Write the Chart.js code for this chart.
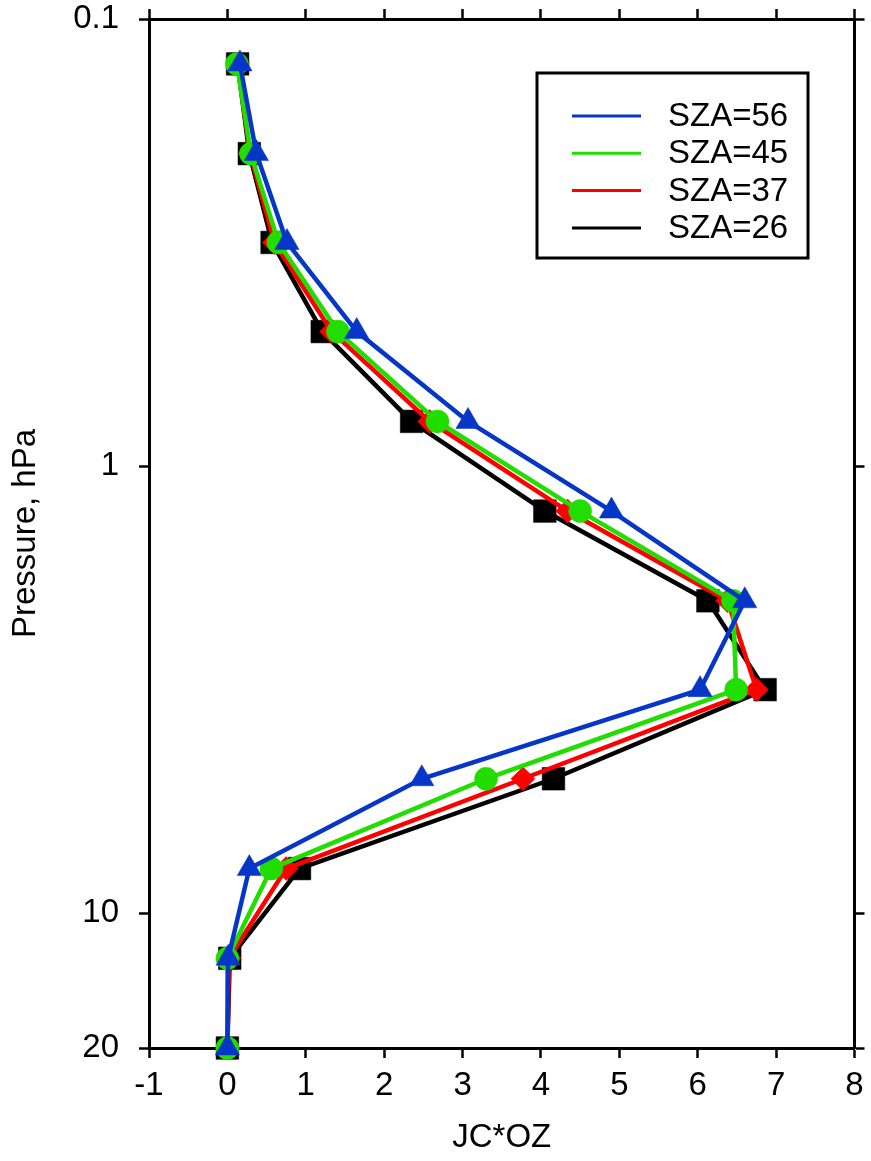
<!DOCTYPE html>
<html>
<head>
<meta charset="utf-8">
<script src="https://cdn.jsdelivr.net/npm/chart.js@4/dist/chart.umd.min.js"></script>
<style>
    html, body { margin: 0; padding: 0; background: #fff; }
    canvas { display: block; }
</style>
</head>
<body>
<canvas id="chartCanvas" width="871" height="1161"></canvas>
<script>
// pressure levels, hPa
const pressureLevels = [0.126, 0.2, 0.316, 0.5, 0.794, 1.26, 2, 3.16, 5, 7.94, 12.6, 20];

// JC*OZ for each solar zenith angle
const sza56 = [0.16, 0.37, 0.76, 1.65, 3.07, 4.90, 6.60, 6.03, 2.48, 0.28, 0.01, 0.0];
const sza45 = [0.12, 0.30, 0.65, 1.41, 2.68, 4.50, 6.45, 6.49, 3.30, 0.56, 0.00, 0.0];
const sza37 = [0.13, 0.29, 0.60, 1.33, 2.58, 4.34, 6.38, 6.75, 3.77, 0.75, 0.02, 0.0];
const sza26 = [0.13, 0.28, 0.57, 1.21, 2.35, 4.05, 6.13, 6.86, 4.16, 0.92, 0.03, 0.0];

const seriesLabels = ["SZA=56", "SZA=45", "SZA=37", "SZA=26"];
const xTicks = [-1, 0, 1, 2, 3, 4, 5, 6, 7, 8];
const yTicks = [0.1, 1, 10, 20];

const FONT = "'Liberation Sans', Arial, Helvetica, sans-serif";

document.addEventListener("DOMContentLoaded", () => {
    const chartCanvas = document.getElementById("chartCanvas");

    function toPoints(values) {
        return values.map((v, i) => ({ x: v, y: pressureLevels[i] }));
    }

    function makeSeries(label, values, color, style, radius) {
        return {
            label: label,
            data: toPoints(values),
            borderColor: color,
            backgroundColor: color,
            borderWidth: 4.5,
            pointStyle: style,
            pointRadius: radius,
            pointHoverRadius: radius,
            pointBackgroundColor: color,
            pointBorderColor: color,
            pointBorderWidth: 0.5,
            tension: 0,
            clip: false
        };
    }

    // fixed axis box sizes, no extra room for edge labels
    function fixBox(size, horizontal) {
        return s => {
            if (horizontal) s.height = size; else s.width = size;
            s.paddingLeft = 0;
            s.paddingRight = 0;
            s.paddingTop = 0;
            s.paddingBottom = 0;
        };
    }

    const frame = { display: true, color: "#000", width: 3 };
    const tickMarks = {
        display: true,
        drawOnChartArea: false,
        drawTicks: true,
        tickLength: 10,
        tickWidth: 2.5,
        tickColor: "#000"
    };

    // legend drawn inside the plot, with a box round it
    const boxLegend = {
        id: "boxLegend",
        afterDraw(chart) {
            const ctx = chart.ctx;
            ctx.save();
            ctx.fillStyle = "#fff";
            ctx.fillRect(537, 73, 271, 185);
            ctx.strokeStyle = "#000";
            ctx.lineWidth = 3;
            ctx.strokeRect(537, 73, 271, 185);
            ctx.font = "33px " + FONT;
            ctx.textBaseline = "middle";
            chart.data.datasets.forEach((ds, i) => {
                const y = 116 + i * 37.3;
                ctx.strokeStyle = ds.borderColor;
                ctx.lineWidth = 3;
                ctx.beginPath();
                ctx.moveTo(572, y);
                ctx.lineTo(641, y);
                ctx.stroke();
                ctx.fillStyle = "#000";
                ctx.fillText(ds.label, 668, y + 1);
            });
            ctx.restore();
        }
    };

    new Chart(chartCanvas, {
        type: "line",
        data: {
            datasets: [
                makeSeries(seriesLabels[0], sza56, "#0536c8", "triangle", 14),
                makeSeries(seriesLabels[1], sza45, "#22dd00", "circle", 11.5),
                makeSeries(seriesLabels[2], sza37, "#ff0000", "rectRot", 12),
                makeSeries(seriesLabels[3], sza26, "#000000", "rect", 16)
            ]
        },
        options: {
            responsive: false,
            animation: false,
            devicePixelRatio: 1,
            layout: { padding: 0 },
            plugins: {
                legend: { display: false },
                tooltip: { enabled: false }
            },
            scales: {
                x: {
                    type: "linear",
                    position: "bottom",
                    min: -1,
                    max: 8,
                    afterBuildTicks: s => { s.ticks = xTicks.map(v => ({ value: v })); },
                    afterFit: fixBox(113, true),
                    border: frame,
                    grid: tickMarks,
                    ticks: {
                        color: "#000",
                        padding: 8,
                        maxRotation: 0,
                        font: { family: FONT, size: 33 },
                        callback: v => String(v)
                    },
                    title: {
                        display: true,
                        text: "JC*OZ",
                        color: "#000",
                        font: { family: FONT, size: 33 },
                        padding: { top: 0, bottom: 3 }
                    }
                },
                x2: {
                    type: "linear",
                    position: "top",
                    min: -1,
                    max: 8,
                    afterBuildTicks: s => { s.ticks = xTicks.map(v => ({ value: v })); },
                    afterFit: fixBox(19, true),
                    border: frame,
                    grid: tickMarks,
                    ticks: { display: false }
                },
                y: {
                    type: "logarithmic",
                    position: "left",
                    reverse: true,
                    min: 0.1,
                    max: 20,
                    afterBuildTicks: s => { s.ticks = yTicks.map(v => ({ value: v })); },
                    afterFit: fixBox(149, false),
                    border: frame,
                    grid: tickMarks,
                    ticks: {
                        color: "#000",
                        padding: 20,
                        font: { family: FONT, size: 33 },
                        callback: v => String(v)
                    },
                    title: {
                        display: true,
                        text: "Pressure, hPa",
                        color: "#000",
                        font: { family: FONT, size: 33 },
                        padding: { top: 6, bottom: 0 }
                    }
                },
                y2: {
                    type: "logarithmic",
                    position: "right",
                    reverse: true,
                    min: 0.1,
                    max: 20,
                    afterBuildTicks: s => { s.ticks = yTicks.map(v => ({ value: v })); },
                    afterFit: fixBox(13, false),
                    border: frame,
                    grid: tickMarks,
                    ticks: { display: false }
                }
            }
        },
        plugins: [boxLegend]
    });
});
</script>
</body>
</html>
